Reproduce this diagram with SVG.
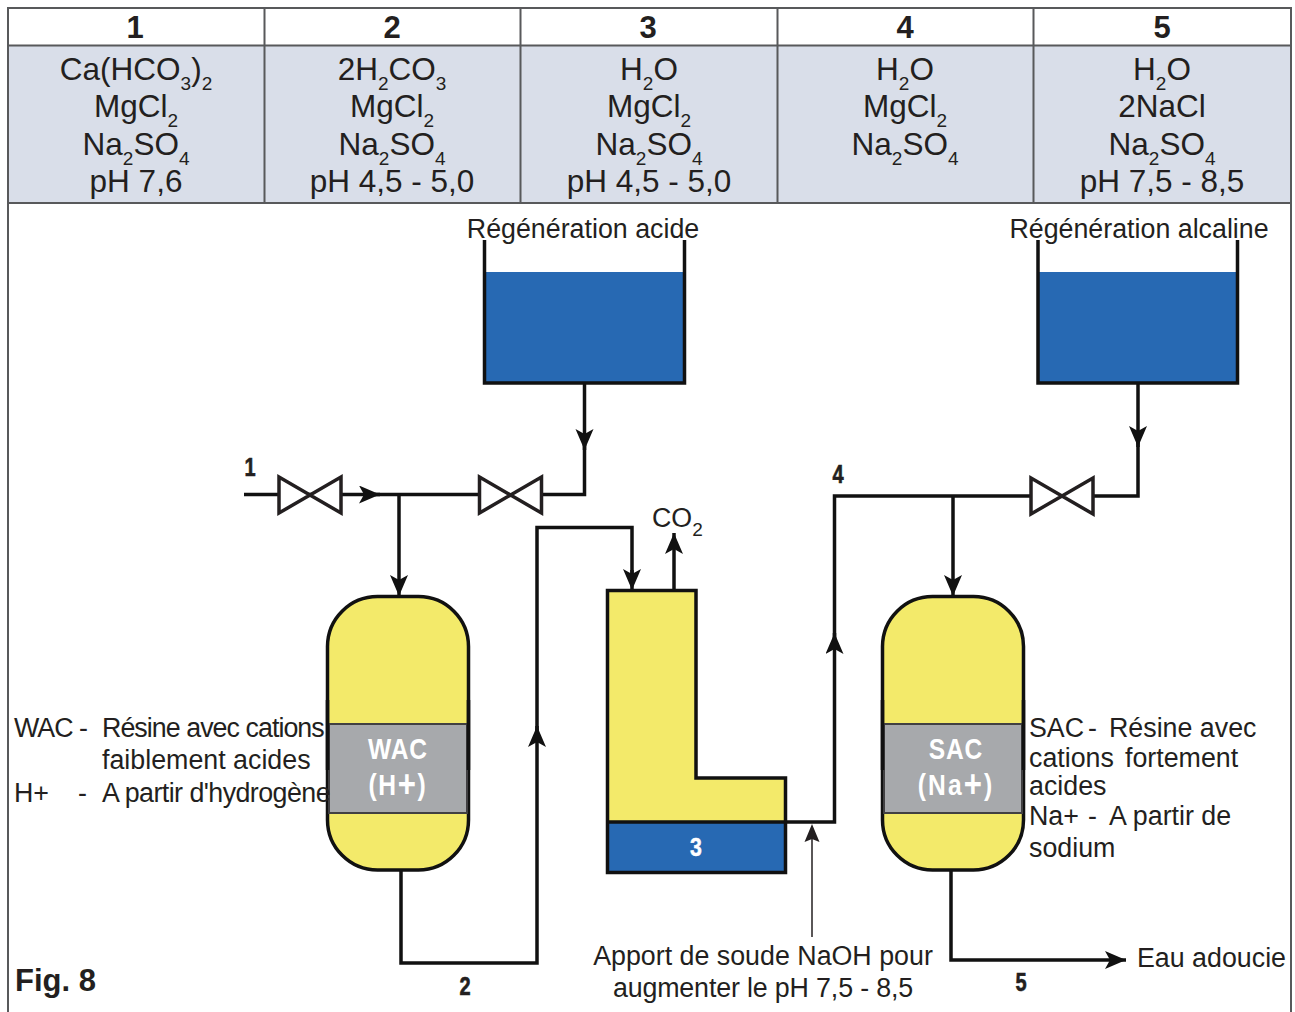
<svg xmlns="http://www.w3.org/2000/svg" width="1295" height="1012" viewBox="0 0 1295 1012">
<style>
text{font-family:"Liberation Sans",Arial,sans-serif;fill:#231f20}
.c{text-anchor:middle;font-size:31.500px}
.h{text-anchor:middle;font-size:31px;font-weight:bold}
.s{font-size:19px}
.t{font-size:26.800px}
.n{font-size:25px;font-weight:bold;text-anchor:middle;stroke:#231f20;stroke-width:.6}
.w{font-size:30px;font-weight:bold;text-anchor:middle;fill:#fff}
.l{font-size:38px}
.p{fill:none;stroke:#111;stroke-width:3.5}
.o{stroke:#111;stroke-width:3.5}
.v{fill:#fff;stroke:#231f20;stroke-width:3.5}
.g{stroke:#58595b;stroke-width:2;fill:none}
</style>
<defs>
<marker id="a" markerUnits="userSpaceOnUse" markerWidth="24" markerHeight="20" refX="21" refY="9" orient="auto"><path d="M0 0L21 9L0 18L5 9Z" fill="#111"/></marker>
<g id="valve"><path class="v" d="M-31-18V18L31-18V18Z"/></g>
</defs>
<rect width="1295" height="1012" fill="#fff"/>
<g id="table">
<rect x="8" y="46" width="1283" height="157" fill="#d9dee9"/>
<path class="g" d="M8 1012V8H1291V1012M8 45.500H1291M8 203H1291M264.500 8V203M520.500 8V203M777.500 8V203M1033.500 8V203"/>
<text class="h" x="135" y="38">1</text><text class="h" x="392" y="38">2</text><text class="h" x="648" y="38">3</text><text class="h" x="905" y="38">4</text><text class="h" x="1162" y="38">5</text>
<text class="c" x="136" y="80">Ca(HCO<tspan class="s" dy="10">3</tspan><tspan dy="-10">)</tspan><tspan class="s" dy="10">2</tspan></text>
<text class="c" x="136" y="117">MgCl<tspan class="s" dy="10">2</tspan></text>
<text class="c" x="136" y="155">Na<tspan class="s" dy="10">2</tspan><tspan dy="-10">SO</tspan><tspan class="s" dy="10">4</tspan></text>
<text class="c" x="136" y="192">pH 7,6</text>
<text class="c" x="392" y="80">2H<tspan class="s" dy="10">2</tspan><tspan dy="-10">CO</tspan><tspan class="s" dy="10">3</tspan></text>
<text class="c" x="392" y="117">MgCl<tspan class="s" dy="10">2</tspan></text>
<text class="c" x="392" y="155">Na<tspan class="s" dy="10">2</tspan><tspan dy="-10">SO</tspan><tspan class="s" dy="10">4</tspan></text>
<text class="c" x="392" y="192">pH 4,5 - 5,0</text>
<text class="c" x="649" y="80">H<tspan class="s" dy="10">2</tspan><tspan dy="-10">O</tspan></text>
<text class="c" x="649" y="117">MgCl<tspan class="s" dy="10">2</tspan></text>
<text class="c" x="649" y="155">Na<tspan class="s" dy="10">2</tspan><tspan dy="-10">SO</tspan><tspan class="s" dy="10">4</tspan></text>
<text class="c" x="649" y="192">pH 4,5 - 5,0</text>
<text class="c" x="905" y="80">H<tspan class="s" dy="10">2</tspan><tspan dy="-10">O</tspan></text>
<text class="c" x="905" y="117">MgCl<tspan class="s" dy="10">2</tspan></text>
<text class="c" x="905" y="155">Na<tspan class="s" dy="10">2</tspan><tspan dy="-10">SO</tspan><tspan class="s" dy="10">4</tspan></text>
<text class="c" x="1162" y="80">H<tspan class="s" dy="10">2</tspan><tspan dy="-10">O</tspan></text>
<text class="c" x="1162" y="117">2NaCl</text>
<text class="c" x="1162" y="155">Na<tspan class="s" dy="10">2</tspan><tspan dy="-10">SO</tspan><tspan class="s" dy="10">4</tspan></text>
<text class="c" x="1162" y="192">pH 7,5 - 8,5</text>
</g>
<g id="connectors">
<path class="p" marker-end="url(#a)" d="M584.500 383V450"/>
<path class="p" d="M584.500 445V494.500H542"/>
<path class="p" marker-end="url(#a)" d="M244 494.500H380"/>
<path class="p" d="M375 494.500H478"/>
<path class="p" marker-end="url(#a)" d="M399 494.500V596"/>
<path class="p" marker-end="url(#a)" d="M401 870V963H537V726"/>
<path class="p" d="M537 732V527.500H632V585"/>
<path class="p" marker-end="url(#a)" d="M632 570V590"/>
<path class="p" marker-end="url(#a)" d="M674 590V533"/>
<path class="p" marker-end="url(#a)" d="M786 822H834.500V633"/>
<path class="p" d="M834.500 640V496H1030"/>
<path class="p" marker-end="url(#a)" d="M1138 383V447"/>
<path class="p" d="M1138 442V496H1094"/>
<path class="p" marker-end="url(#a)" d="M953 496V596"/>
<path class="p" marker-end="url(#a)" d="M951 870V960H1126"/>
<path d="M812 937V830" fill="none" stroke="#231f20" stroke-width="1.500"/>
<path d="M804.500 842L812 824L819.500 842L812 839Z" fill="#231f20"/>
</g>
<g id="valve-1"><use href="#valve" x="310" y="495"/></g>
<g id="valve-2"><use href="#valve" x="510.500" y="495"/></g>
<g id="valve-3"><use href="#valve" x="1062" y="496"/></g>
<g id="tank-acid">
<rect x="484.500" y="272" width="200" height="111" fill="#2769b3"/>
<path class="p" d="M484.500 240V383H684.500V240"/>
<text class="t" x="583" y="238" text-anchor="middle">Régénération acide</text>
</g>
<g id="tank-alkaline">
<rect x="1038" y="272" width="199.500" height="111" fill="#2769b3"/>
<path class="p" d="M1038 240V383H1237.500V240"/>
<text class="t" x="1139" y="238" text-anchor="middle">Régénération alcaline</text>
</g>
<g id="wac">
<rect class="o" x="327.500" y="596.500" width="141" height="273.500" rx="50" fill="#f3ea6a"/>
<rect x="329" y="724" width="138" height="89" fill="#a7a9ac" stroke="#414042" stroke-width="2"/>
<path class="p" d="M327.500 700V770M468.500 700V770"/>
<text class="w" x="398" y="759" letter-spacing="1" transform="translate(398 0) scale(.82 1) translate(-398 0)">WAC</text>
<text class="w" x="398" y="795" letter-spacing="2" transform="translate(398 0) scale(.82 1) translate(-398 0)">(H<tspan class="l" dy="2">+</tspan><tspan dy="-2">)</tspan></text>
</g>
<g id="sac">
<rect class="o" x="882.500" y="596.500" width="141" height="273.500" rx="50" fill="#f3ea6a"/>
<rect x="884" y="724" width="138" height="89" fill="#a7a9ac" stroke="#414042" stroke-width="2"/>
<path class="p" d="M882.500 700V770M1023.500 700V770"/>
<text class="w" x="956" y="759" letter-spacing="1" transform="translate(956 0) scale(.82 1) translate(-956 0)">SAC</text>
<text class="w" x="956" y="795" letter-spacing="2.500" transform="translate(956 0) scale(.82 1) translate(-956 0)">(Na<tspan class="l" dy="2">+</tspan><tspan dy="-2">)</tspan></text>
</g>
<g id="degasser">
<path d="M607.500 590.500H696V778H785.500V822H607.500Z" fill="#f3ea6a"/>
<rect x="607.500" y="822" width="178" height="50.500" fill="#2769b3"/>
<path class="p" d="M607.500 590.500H696V778H785.500V872.500H607.500ZM607.500 822H785.500"/>
<text class="w" x="696" y="856" style="font-size:25px;stroke:#fff;stroke-width:.5" transform="translate(696 0) scale(.85 1) translate(-696 0)">3</text>
</g>
<g id="labels">
<text class="t" x="652" y="527">CO<tspan class="s" dy="9">2</tspan></text>
<text class="n" transform="translate(250 476) scale(.8 1)">1</text>
<text class="n" transform="translate(465 995) scale(.8 1)">2</text>
<text class="n" transform="translate(838 483) scale(.8 1)">4</text>
<text class="n" transform="translate(1021 991) scale(.8 1)">5</text>
<text class="t" x="14" y="737" letter-spacing="-1">WAC -</text>
<text class="t" x="102" y="737" letter-spacing="-.95">Résine avec cations</text>
<text class="t" x="102" y="769">faiblement acides</text>
<text class="t" x="14" y="802">H+</text>
<text class="t" x="78" y="802">-</text>
<text class="t" x="102" y="802" letter-spacing="-.55">A partir d'hydrogène</text>
<text class="t" x="1029" y="737">SAC</text><text class="t" x="1088" y="737">-</text><text class="t" x="1109" y="737">Résine avec</text>
<text class="t" x="1029" y="767">cations</text><text class="t" x="1125" y="767">fortement</text>
<text class="t" x="1029" y="795">acides</text>
<text class="t" x="1029" y="825">Na+</text><text class="t" x="1088" y="825">-</text><text class="t" x="1109" y="825">A partir de</text>
<text class="t" x="1029" y="857">sodium</text>
<text class="t" x="763" y="965" text-anchor="middle">Apport de soude NaOH pour</text>
<text class="t" x="763" y="997" text-anchor="middle" letter-spacing="-.15">augmenter le pH 7,5 - 8,5</text>
<text class="t" x="1137" y="967">Eau adoucie</text>
<text x="15" y="991" font-size="31" font-weight="bold">Fig. 8</text>
</g>
</svg>
